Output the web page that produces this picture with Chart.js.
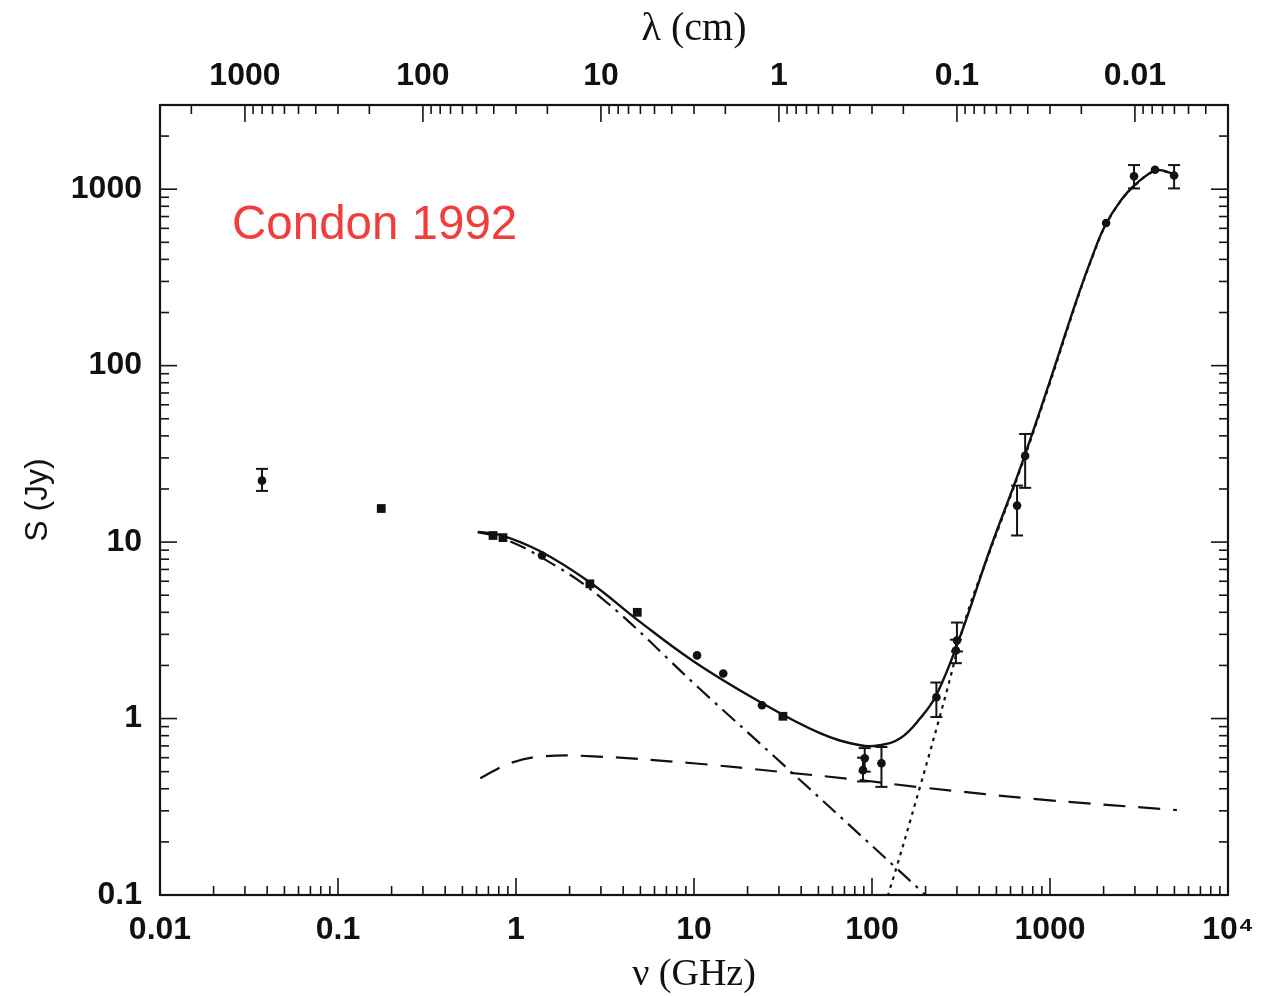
<!DOCTYPE html>
<html>
<head>
<meta charset="utf-8">
<script src="https://cdn.jsdelivr.net/npm/chart.js@4.4.1/dist/chart.umd.min.js"></script>
<style>
  html, body { margin: 0; padding: 0; background: #fff; }
  canvas { display: block; }
</style>
</head>
<body>
<canvas id="sed" width="1261" height="996"></canvas>
<script>
// observed flux densities (GHz, Jy)
const obsFreq = [0.0374, 0.175, 0.743, 0.845, 1.40, 2.6, 4.8, 10.4, 14.6, 24.1, 31.6, 89, 91, 113, 230, 296, 300, 653, 725, 2066, 2965, 3890, 4980];
const obsFlux = [22.3, 15.5, 10.9, 10.6, 8.4, 5.8, 4.0, 2.28, 1.80, 1.19, 1.03, 0.51, 0.595, 0.558, 1.32, 2.43, 2.77, 16.1, 30.8, 643, 1185, 1290, 1195];
const obsErrLow = [19.5, null, null, null, null, null, null, null, null, null, null, 0.44, 0.50, 0.41, 1.02, 2.06, 2.4, 10.9, 20.3, null, 1010, null, 1010];
const obsErrHigh = [26.0, null, null, null, null, null, null, null, null, null, null, 0.60, 0.68, 0.69, 1.60, 2.8, 3.5, 20.9, 41.0, null, 1370, null, 1370];
const obsShape = ['circle', 'rect', 'rect', 'rect', 'circle', 'rect', 'rect', 'circle', 'circle', 'circle', 'rect', 'circle', 'circle', 'circle', 'circle', 'circle', 'circle', 'circle', 'circle', 'circle', 'circle', 'circle', 'circle'];

// model curves
const totalFreq = [0.61, 0.81, 1.36, 2.61, 4.85, 9.87, 22.6, 51, 86, 110, 144, 186, 230, 312, 460, 678, 1000, 1419, 1750, 2037, 2472, 3006, 3945, 4845];
const totalFlux = [11.4, 11.0, 8.9, 5.9, 3.6, 2.12, 1.27, 0.826, 0.706, 0.706, 0.773, 1.0, 1.36, 2.9, 9.08, 26, 82, 240, 430, 620, 850, 1060, 1280, 1230];

const synchFreq = [0.61, 0.8, 1.36, 3.0, 10.8, 31.6, 200, 260];
const synchFlux = [11.4, 10.7, 8.3, 4.85, 1.47, 0.55, 0.1, 0.078];

const freeFreq = [0.63, 0.925, 1.42, 2.71, 9.87, 31.6, 78.2, 186, 1000, 5160];
const freeFlux = [0.459, 0.558, 0.611, 0.611, 0.558, 0.497, 0.453, 0.408, 0.344, 0.303];

const dustFreq = [105, 123, 186, 264, 342, 460, 678, 1000, 1419, 1750, 2037, 2472, 3006, 3945, 4845];
const dustFlux = [0.065, 0.1, 0.41, 1.45, 3.9, 8.9, 25.5, 80, 236, 425, 615, 845, 1055, 1275, 1225];

const freqLabels = { 0.01: '0.01', 0.1: '0.1', 1: '1', 10: '10', 100: '100', 1000: '1000', 10000: '10\u2074' };
const waveLabels = { 0.01: '0.01', 0.1: '0.1', 1: '1', 10: '10', 100: '100', 1000: '1000' };
const fluxLabels = { 0.1: '0.1', 1: '1', 10: '10', 100: '100', 1000: '1000' };

const pairs = (xs, ys) => xs.map((x, i) => ({ x: x, y: ys[i] }));

function logTicks(scale) {
  const ticks = [];
  const lo = Math.floor(Math.log10(scale.min));
  const hi = Math.ceil(Math.log10(scale.max));
  for (let e = lo; e <= hi; e++) {
    for (let m = 1; m < 10; m++) {
      const v = Number((m * Math.pow(10, e)).toPrecision(6));
      if (v >= scale.min * 0.999 && v <= scale.max * 1.001) ticks.push({ value: v, major: m === 1 });
    }
  }
  scale.ticks = ticks;
}

const tickFont = { family: 'Liberation Sans', size: 32, weight: 'bold' };

const frameAndTicks = {
  id: 'frameAndTicks',
  afterDatasetsDraw(chart) {
    const { ctx, chartArea: a, scales } = chart;
    ctx.save();
    ctx.strokeStyle = '#141414';
    ctx.lineWidth = 1.6;
    const line = (x1, y1, x2, y2) => { ctx.beginPath(); ctx.moveTo(x1, y1); ctx.lineTo(x2, y2); ctx.stroke(); };
    [['x', a.bottom, -1], ['x2', a.top, 1]].forEach(([id, edge, dir]) => {
      const s = scales[id];
      s.ticks.forEach(t => {
        const px = s.getPixelForValue(t.value);
        if (px < a.left + 1 || px > a.right - 1) return;
        line(px, edge, px, edge + dir * (t.major ? 17 : 9));
      });
    });
    [['y', a.left, 1], ['y2', a.right, -1]].forEach(([id, edge, dir]) => {
      const s = scales[id];
      s.ticks.forEach(t => {
        const py = s.getPixelForValue(t.value);
        if (py < a.top + 1 || py > a.bottom - 1) return;
        line(edge, py, edge + dir * (t.major ? 17 : 9), py);
      });
    });
    ctx.lineWidth = 2.2;
    ctx.strokeRect(a.left, a.top, a.right - a.left, a.bottom - a.top);

    // error bars
    const xs = scales.x, ys = scales.y;
    ctx.lineWidth = 2;
    obsFreq.forEach((f, i) => {
      if (obsErrLow[i] == null) return;
      const px = xs.getPixelForValue(f);
      const yl = ys.getPixelForValue(obsErrLow[i]);
      const yh = ys.getPixelForValue(obsErrHigh[i]);
      line(px, yl, px, yh);
      line(px - 6, yl, px + 6, yl);
      line(px - 6, yh, px + 6, yh);
    });

    ctx.fillStyle = '#f23d3d';
    ctx.font = '47.5px "Liberation Sans"';
    ctx.textBaseline = 'middle';
    ctx.fillText('Condon 1992', 232, 226);
    ctx.restore();
  }
};

const curve = (xs, ys, dash, width) => ({
  data: pairs(xs, ys),
  showLine: true,
  borderColor: '#111',
  borderWidth: width,
  borderDash: dash,
  pointRadius: 0,
  tension: 0.4,
  fill: false
});

new Chart(document.getElementById('sed'), {
  type: 'scatter',
  data: {
    datasets: [
      {
        data: pairs(obsFreq, obsFlux),
        pointStyle: obsShape,
        pointRadius: obsShape.map(s => s === 'rect' ? 6.2 : 4.3),
        backgroundColor: '#111',
        borderColor: '#111',
        borderWidth: 0,
        showLine: false
      },
      curve(totalFreq, totalFlux, [], 2.4),
      curve(synchFreq, synchFlux, [17, 7, 3, 7], 2.2),
      curve(freeFreq, freeFlux, [22, 13], 2.2),
      curve(dustFreq, dustFlux, [3.5, 5], 2.2)
    ]
  },
  options: {
    responsive: false,
    animation: false,
    devicePixelRatio: 1,
    layout: { padding: 0 },
    plugins: { legend: { display: false }, tooltip: { enabled: false } },
    scales: {
      x: {
        type: 'logarithmic',
        position: 'bottom',
        min: 0.01,
        max: 10000,
        afterBuildTicks: logTicks,
        afterFit: s => { s.height = 101; s.paddingLeft = 0; s.paddingRight = 0; },
        grid: { display: false, drawTicks: false },
        border: { display: false },
        ticks: {
          autoSkip: false, maxRotation: 0, padding: 16, font: tickFont, color: '#111',
          callback: v => freqLabels[v] || ''
        },
        title: { display: true, text: '\u03bd (GHz)', font: { family: 'Liberation Serif', size: 38, lineHeight: 1.1 }, color: '#111', padding: { top: 0, bottom: 0 } }
      },
      x2: {
        type: 'logarithmic',
        position: 'top',
        reverse: true,
        min: 0.003,
        max: 3000,
        afterBuildTicks: logTicks,
        afterFit: s => { s.height = 105; s.paddingLeft = 0; s.paddingRight = 0; },
        grid: { display: false, drawTicks: false },
        border: { display: false },
        ticks: {
          autoSkip: false, maxRotation: 0, padding: 10, font: tickFont, color: '#111',
          callback: v => waveLabels[v] || ''
        },
        title: { display: true, text: '\u03bb (cm)', font: { family: 'Liberation Serif', size: 40 }, color: '#111', padding: { top: 5, bottom: 0 } }
      },
      y: {
        type: 'logarithmic',
        position: 'left',
        min: 0.1,
        max: 3000,
        afterBuildTicks: logTicks,
        afterFit: s => { s.width = 160; },
        grid: { display: false, drawTicks: false },
        border: { display: false },
        ticks: {
          autoSkip: false, padding: 18, font: tickFont, color: '#111',
          callback: v => fluxLabels[v] || ''
        },
        title: { display: true, text: 'S (Jy)', font: { family: 'Liberation Sans', size: 32 }, color: '#111', padding: { top: 19, bottom: 0 } }
      },
      y2: {
        type: 'logarithmic',
        position: 'right',
        min: 0.1,
        max: 3000,
        afterBuildTicks: logTicks,
        afterFit: s => { s.width = 33; },
        grid: { display: false, drawTicks: false },
        border: { display: false },
        ticks: { display: false }
      }
    }
  },
  plugins: [frameAndTicks]
});
</script>
</body>
</html>
